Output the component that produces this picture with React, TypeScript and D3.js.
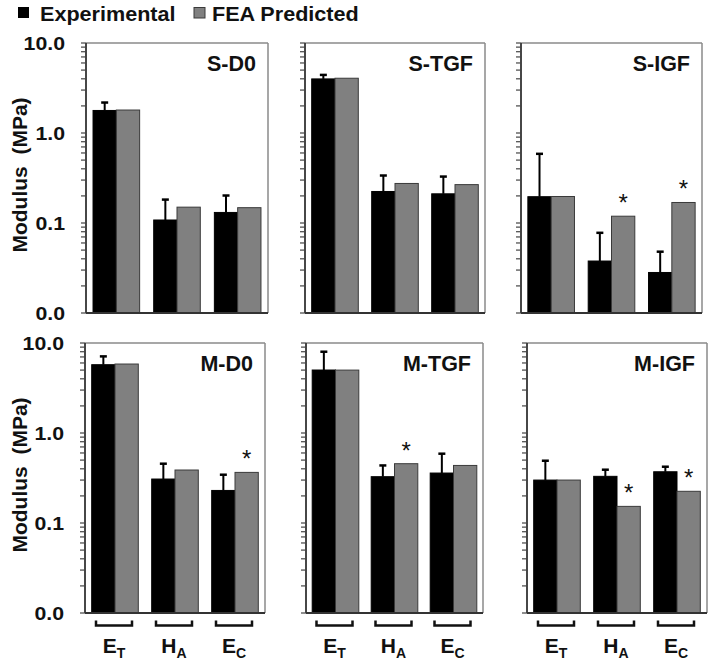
import React from "react";
import * as d3 from "d3";

// ---------- data ----------
const panelNames = ["S-D0", "S-TGF", "S-IGF", "M-D0", "M-TGF", "M-IGF"];
const categories = ["ET", "HA", "EC"];
const categoryMain = ["E", "H", "E"];
const categorySub = ["T", "A", "C"];
const seriesNames = ["Experimental", "FEA Predicted"];

const experimental = [
  [1.78, 0.108, 0.131],
  [3.99, 0.224, 0.211],
  [0.196, 0.0378, 0.0282],
  [5.74, 0.308, 0.23],
  [5.01, 0.327, 0.359],
  [0.3, 0.33, 0.371],
];
const experimentalSD = [
  [0.4, 0.074, 0.071],
  [0.43, 0.113, 0.117],
  [0.391, 0.04, 0.0198],
  [1.36, 0.148, 0.114],
  [2.99, 0.109, 0.23],
  [0.192, 0.061, 0.051],
];
const predicted = [
  [1.8, 0.15, 0.148],
  [4.06, 0.275, 0.267],
  [0.197, 0.119, 0.169],
  [5.84, 0.388, 0.365],
  [5.0, 0.456, 0.436],
  [0.3, 0.153, 0.225],
];
const significant = [
  [0, 0, 0],
  [0, 0, 0],
  [0, 1, 1],
  [0, 0, 1],
  [0, 1, 0],
  [0, 1, 1],
];
const tickValues = [10, 1, 0.1, 0.01];
const tickLabels = ["10.0", "1.0", "0.1", "0.0"];
const yAxisTitle = "Modulus  (MPa)";

// ---------- layout ----------
const W = 714;
const H = 667;
const rowY = [
  [43, 313],
  [343, 613],
];
const colX = [
  [86, 305, 521],
  [85, 306, 527],
];
const colW = [
  [182, 180, 181],
  [180, 177, 180],
];
const FONT = "'Liberation Sans', Arial, Helvetica, sans-serif";
const GREY = "#808080";

function Panel({ idx }: { idx: number }) {
  const row = Math.floor(idx / 3);
  const col = idx % 3;
  const [top, bottom] = rowY[row];
  const left = colX[row][col];
  const width = colW[row][col];
  const right = left + width;
  const y = d3.scaleLog().domain([0.01, 10]).range([bottom, top]);
  const x = d3.scaleBand().domain(categories).range([left, right]);
  const bw = 23.3;
  const off = (x.bandwidth() - 2 * bw) / 2;
  const ticks = y.ticks();

  return (
    <g>
      {categories.map((c, i) => {
        const bx = (x(c) as number) + off;
        const ev = experimental[idx][i];
        const pv = predicted[idx][i];
        const et = y(ev + experimentalSD[idx][i]);
        return (
          <g key={c}>
            <line x1={bx + bw / 2} x2={bx + bw / 2} y1={y(ev)} y2={et} stroke="#000" strokeWidth={2} />
            <line x1={bx + bw / 2 - 3.5} x2={bx + bw / 2 + 3.5} y1={et} y2={et} stroke="#000" strokeWidth={2.5} />
            <rect x={bx} y={y(ev)} width={bw} height={bottom - y(ev)} fill="#000" stroke="#000" strokeWidth={1} />
            <rect x={bx + bw} y={y(pv)} width={bw} height={bottom - y(pv)} fill={GREY} stroke="#3a3a3a" strokeWidth={1} />
            {significant[idx][i] ? (
              <text x={bx + bw * 1.5} y={y(pv) - 5} textAnchor="middle" fontSize={24} fontWeight="normal" fill="#111">
                *
              </text>
            ) : null}
          </g>
        );
      })}
      {/* frame */}
      <line x1={left} x2={right} y1={top} y2={top} stroke="#8a8a8a" strokeWidth={1.5} />
      <line x1={right} x2={right} y1={top} y2={bottom} stroke="#8a8a8a" strokeWidth={1.5} />
      <line x1={left} x2={right} y1={bottom} y2={bottom} stroke="#333" strokeWidth={1.8} />
      <line x1={left} x2={left} y1={top} y2={bottom} stroke="#333" strokeWidth={1.8} />
      {ticks.map((t, i) => (
        <line key={i} x1={left - 5} x2={left} y1={y(t)} y2={y(t)} stroke="#444" strokeWidth={1.2} />
      ))}
      {col === 0
        ? tickValues.map((t, i) => (
            <text
              key={t}
              transform={`translate(${left - 21},${y(t) + 7}) scale(1.12,1)`}
              textAnchor="end"
              fontSize={19}
              fill="#111"
            >
              {tickLabels[i]}
            </text>
          ))
        : null}
      {col === 0 ? (
        <text
          transform={`translate(26.5,${(top + bottom) / 2 - 3}) rotate(-90)`}
          textAnchor="middle"
          fontSize={21}
          fill="#111"
          style={{ whiteSpace: "pre" }}
        >
          {yAxisTitle}
        </text>
      ) : null}
      <text x={right - 12} y={top + 28} textAnchor="end" fontSize={21.5} fill="#111">
        {panelNames[idx]}
      </text>
      {row === 1
        ? categories.map((c, i) => {
            const cx = (x(c) as number) + x.bandwidth() / 2 - 1;
            const by = 625.5;
            return (
              <g key={c}>
                <path
                  d={`M${cx - 18},${by - 5}V${by}H${cx + 18}V${by - 5}`}
                  fill="none"
                  stroke="#111"
                  strokeWidth={2.5}
                />
                <text x={cx} y={653} textAnchor="middle" fontSize={21} fill="#111">
                  {categoryMain[i]}
                  <tspan fontSize={14} dy={4.5}>
                    {categorySub[i]}
                  </tspan>
                </text>
              </g>
            );
          })
        : null}
    </g>
  );
}

export default function App() {
  return (
    <svg
      width={W}
      height={H}
      style={{ position: "absolute", left: 0, top: 0, background: "#fff" }}
      fontFamily={FONT}
      fontWeight="bold"
    >
      <rect x={0} y={0} width={W} height={H} fill="#fff" />
      {/* legend */}
      <rect x={18} y={7} width={11} height={11} fill="#000" />
      <text transform="translate(40,21) scale(1.08,1)" fontSize={20} fill="#111">
        {seriesNames[0]}
      </text>
      <rect x={194} y={7.5} width={11} height={10.5} fill={GREY} stroke="#3a3a3a" strokeWidth={1} />
      <text transform="translate(212,21) scale(1.08,1)" fontSize={20} fill="#111">
        {seriesNames[1]}
      </text>
      {panelNames.map((p, i) => (
        <Panel key={p} idx={i} />
      ))}
    </svg>
  );
}
